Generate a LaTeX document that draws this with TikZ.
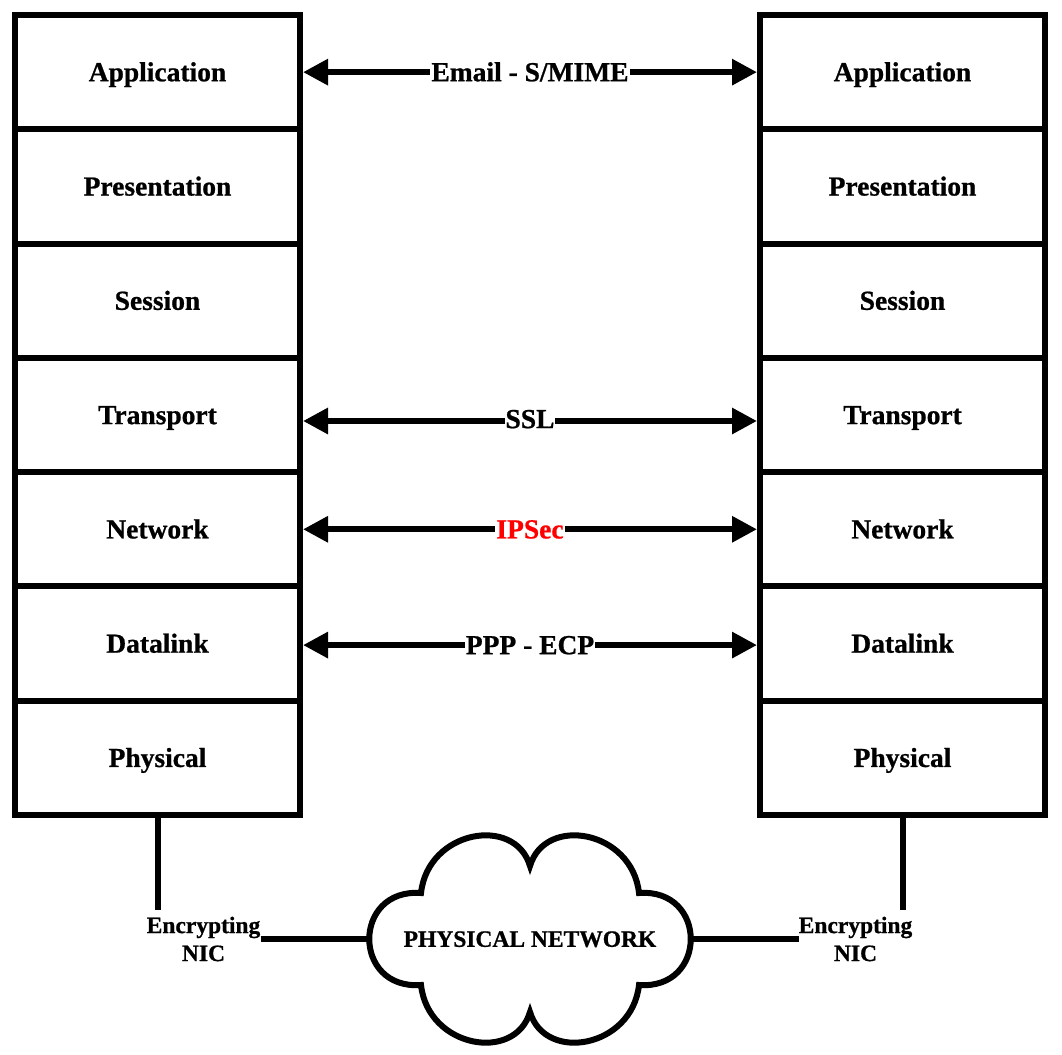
\documentclass[tikz,border=0pt]{standalone}
\usepackage{fontspec}
\setmainfont{Liberation Serif}[BoldFeatures={FakeBold=0.8}]
\usetikzlibrary{arrows.meta}
\begin{document}
\begin{tikzpicture}[x=1pt,y=-1pt,
  layer/.style={draw, line width=6pt, minimum width=285pt, minimum height=114.29pt, inner sep=0pt,
    font=\fontsize{27.5}{33}\selectfont\bfseries, text height=18.2pt, text depth=0pt},
  link/.style={line width=6pt, {Triangle[length=25pt,width=25pt]}-{Triangle[length=25pt,width=25pt]}},
  lbl/.style={fill=white, inner sep=1pt, font=\fontsize{27.5}{33}\selectfont\bfseries, text height=18.2pt, text depth=0pt},
  small/.style={font=\fontsize{23.5}{28}\selectfont\bfseries, align=center, inner sep=0pt},
  wire/.style={line width=6pt}]
\useasboundingbox (0,0) rectangle (1062,1054);
% left stack
\node[layer] (L1) at (157.5, 72.14) {Application};
\node[layer] (L2) at (157.5,186.43) {Presentation};
\node[layer] (L3) at (157.5,300.71) {Session};
\node[layer] (L4) at (157.5,415.00) {Transport};
\node[layer] (L5) at (157.5,529.29) {Network};
\node[layer] (L6) at (157.5,643.57) {Datalink};
\node[layer] (L7) at (157.5,757.86) {Physical};
% right stack
\node[layer] (R1) at (902.5, 72.14) {Application};
\node[layer] (R2) at (902.5,186.43) {Presentation};
\node[layer] (R3) at (902.5,300.71) {Session};
\node[layer] (R4) at (902.5,415.00) {Transport};
\node[layer] (R5) at (902.5,529.29) {Network};
\node[layer] (R6) at (902.5,643.57) {Datalink};
\node[layer] (R7) at (902.5,757.86) {Physical};
% protocol arrows
\draw[link] (L1.east) -- (R1.west) node[midway, lbl] {Email - S/MIME};
\draw[link] ([yshift=-6pt]L4.east) -- ([yshift=-6pt]R4.west) node[midway, lbl, yshift=2pt] {SSL};
\draw[link] (L5.east) -- (R5.west) node[midway, lbl, text=red] {IPSec};
\draw[link] ([yshift=-1.5pt]L6.east) -- ([yshift=-1.5pt]R6.west) node[midway, lbl] {PPP - ECP};
% cloud
\draw[wire, fill=white]
  (421,893) .. controls (428,830) and (515,815) .. (530,866)
            .. controls (545,815) and (632,830) .. (639,893)
            .. controls (708,888) and (708,990) .. (639,985)
            .. controls (632,1048) and (545,1063) .. (530,1012)
            .. controls (515,1063) and (428,1048) .. (421,985)
            .. controls (352,990) and (352,888) .. cycle;
\coordinate (cloudW) at (369,939);
\coordinate (cloudE) at (691,939);
\node[small, text height=15.6pt, text depth=0pt] (cloud) at (530,939) {PHYSICAL NETWORK};
% NICs
\node[small] (nicL) at (203.5,939) {Encrypting\\NIC};
\node[small] (nicR) at (855.5,939) {Encrypting\\NIC};
\draw[wire, shorten >=7pt] (L7.south) -- (L7.south |- nicL.north);
\draw[wire, shorten >=7pt] (R7.south) -- (R7.south |- nicR.north);
\draw[wire] (nicL.east) -- (cloudW);
\draw[wire] (cloudE) -- (nicR.west);
\end{tikzpicture}
\end{document}
